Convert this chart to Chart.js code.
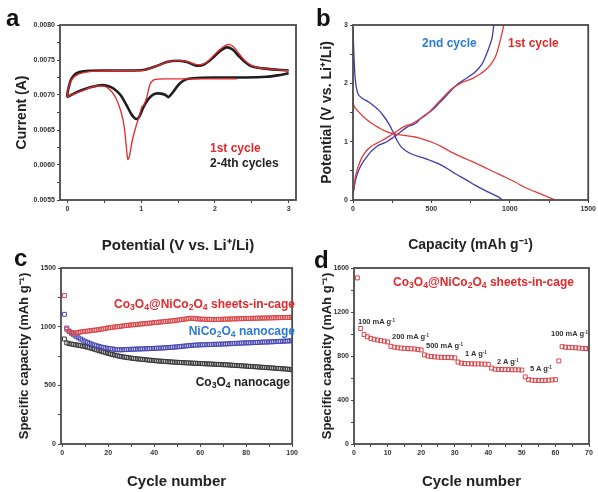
<!DOCTYPE html>
<html>
<head>
<meta charset="utf-8">
<script src="https://cdn.jsdelivr.net/npm/chart.js@4.4.0/dist/chart.umd.min.js"></script>
<style>
body { margin: 0; background: #fff; width: 598px; height: 492px; position: relative; overflow: hidden; font-family: Arial, "Liberation Sans", sans-serif; }
canvas { position: absolute; }
.lbl { position: absolute; font-weight: bold; white-space: nowrap; line-height: 1; }
.lbl sub { font-size: 0.72em; vertical-align: -0.22em; line-height: 0; }
.lbl sup { font-size: 0.6em; vertical-align: 0.45em; line-height: 0; }
.tag { position: absolute; font-size: 24px; font-weight: bold; line-height: 1; color: #111; }
.small { font-size: 7.5px; color: #333; }
.mid { font-size: 12px; }
</style>
</head>
<body>
<canvas id="chartA" width="300" height="255" style="left:0;top:0"></canvas>
<canvas id="chartB" width="298" height="255" style="left:300px;top:0"></canvas>
<canvas id="chartC" width="300" height="242" style="left:0;top:250px"></canvas>
<canvas id="chartD" width="298" height="242" style="left:300px;top:250px"></canvas>

<div class="tag" style="left:6px;top:6px">a</div>
<div class="tag" style="left:316px;top:6px">b</div>
<div class="tag" style="left:14px;top:246px">c</div>
<div class="tag" style="left:314px;top:248px">d</div>

<div class="lbl mid" style="left:210px;top:142px;color:#e4282c">1st cycle</div>
<div class="lbl mid" style="left:210px;top:157px;color:#222">2-4th cycles</div>

<div class="lbl mid" style="left:422px;top:37px;color:#2b7bd0">2nd cycle</div>
<div class="lbl mid" style="left:508px;top:37px;color:#e4282c">1st cycle</div>

<div class="lbl mid" style="right:303px;top:298px;color:#e4282c">Co<sub>3</sub>O<sub>4</sub>@NiCo<sub>2</sub>O<sub>4</sub> sheets-in-cage</div>
<div class="lbl mid" style="right:303px;top:325px;color:#2b7bd0">NiCo<sub>2</sub>O<sub>4</sub> nanocage</div>
<div class="lbl mid" style="right:308px;top:376px;color:#222">Co<sub>3</sub>O<sub>4</sub> nanocage</div>

<div class="lbl mid" style="left:393px;top:276px;color:#e4282c">Co<sub>3</sub>O<sub>4</sub>@NiCo<sub>2</sub>O<sub>4</sub> sheets-in-cage</div>
<div class="lbl small" style="left:358px;top:318px">100 mA g<sup>-1</sup></div>
<div class="lbl small" style="left:392px;top:333px">200 mA g<sup>-1</sup></div>
<div class="lbl small" style="left:426px;top:342px">500 mA g<sup>-1</sup></div>
<div class="lbl small" style="left:465px;top:350px">1 A g<sup>-1</sup></div>
<div class="lbl small" style="left:497px;top:358px">2 A g<sup>-1</sup></div>
<div class="lbl small" style="left:530px;top:365px">5 A g<sup>-1</sup></div>
<div class="lbl small" style="left:551px;top:330px">100 mA g<sup>-1</sup></div>

<script>
// ---- panel a: CV curves ----
const cv1Potential = [2.30, 1.80, 1.40, 1.18, 1.12, 1.08, 1.04, 1.01, 0.98, 0.93, 0.88, 0.84, 0.82, 0.80, 0.77, 0.73, 0.67, 0.60, 0.52, 0.45, 0.35, 0.25, 0.15, 0.05, 0.00,
  0.02, 0.06, 0.12, 0.22, 0.40, 0.70, 1.00, 1.10, 1.25, 1.40, 1.55, 1.65, 1.78, 1.88, 1.98, 2.08, 2.17, 2.24, 2.32, 2.40, 2.50, 2.65, 2.85, 3.00];
const cv1Current = [0.00723, 0.00723, 0.00723, 0.00722, 0.00715, 0.00698, 0.00686, 0.00683, 0.00672, 0.00655, 0.00635, 0.00612, 0.00608, 0.00625, 0.00655, 0.00675, 0.00693, 0.00705, 0.00712, 0.00713, 0.00712, 0.00708, 0.00704, 0.00700, 0.00698,
  0.00712, 0.00722, 0.00728, 0.00732, 0.00734, 0.00735, 0.00735, 0.00737, 0.00743, 0.00748, 0.00749, 0.00747, 0.00743, 0.00746, 0.00756, 0.00766, 0.00772, 0.00770, 0.00760, 0.00750, 0.00742, 0.00738, 0.00736, 0.00735];
const cv2Potential = [3.00, 2.85, 2.70, 2.40, 2.00, 1.70, 1.60, 1.52, 1.46, 1.40, 1.37, 1.33, 1.27, 1.20, 1.13, 1.07, 1.02, 0.98, 0.95, 0.91, 0.86, 0.80, 0.72, 0.63, 0.55, 0.45, 0.35, 0.25, 0.15, 0.05, 0.00,
  0.02, 0.06, 0.12, 0.22, 0.50, 0.90, 1.05, 1.20, 1.35, 1.50, 1.62, 1.75, 1.86, 1.96, 2.06, 2.16, 2.24, 2.32, 2.40, 2.50, 2.65, 2.85, 3.00];
const cv2Current = [0.00731, 0.00728, 0.00726, 0.00725, 0.00725, 0.00724, 0.00722, 0.00716, 0.00708, 0.00700, 0.00697, 0.00700, 0.00702, 0.00702, 0.00698, 0.00690, 0.00680, 0.00670, 0.00666, 0.00667, 0.00674, 0.00686, 0.00700, 0.00709, 0.00713, 0.00714, 0.00712, 0.00709, 0.00705, 0.00700, 0.00698,
  0.00712, 0.00724, 0.00731, 0.00734, 0.00735, 0.00735, 0.00736, 0.00741, 0.00747, 0.00749, 0.00747, 0.00742, 0.00744, 0.00752, 0.00762, 0.00768, 0.00765, 0.00756, 0.00748, 0.00741, 0.00738, 0.00736, 0.00735];
const ticksAx = [0, 0.5, 1, 1.5, 2, 2.5, 3];
const labelsAx = ['0', '', '1', '', '2', '', '3'];
const ticksAy = [0.0055, 0.00575, 0.006, 0.00625, 0.0065, 0.00675, 0.007, 0.00725, 0.0075, 0.00775, 0.008];
const labelsAy = ['0.0055', '', '0.0060', '', '0.0065', '', '0.0070', '', '0.0075', '', '0.0080'];

// ---- panel b: charge/discharge profiles ----
const dis1Cap = [0, 5, 26, 70, 121, 170, 206, 250, 291, 350, 398, 450, 504, 568, 620, 674, 750, 823, 900, 972, 1040, 1100, 1200, 1291];
const dis1Volt = [1.75, 1.62, 1.54, 1.42, 1.31, 1.23, 1.18, 1.14, 1.12, 1.10, 1.08, 1.04, 0.99, 0.91, 0.83, 0.76, 0.67, 0.58, 0.48, 0.39, 0.30, 0.21, 0.10, 0.0];
const chg1Cap = [0, 8, 15, 30, 57, 85, 111, 150, 185, 230, 270, 320, 377, 420, 462, 505, 547, 590, 632, 700, 760, 810, 845, 880, 909, 928, 945, 962];
const chg1Volt = [0.10, 0.25, 0.39, 0.55, 0.73, 0.84, 0.91, 0.97, 1.02, 1.09, 1.16, 1.25, 1.31, 1.38, 1.45, 1.56, 1.68, 1.80, 1.91, 2.02, 2.08, 2.16, 2.23, 2.33, 2.46, 2.62, 2.80, 3.0];
const dis2Cap = [0, 5, 10, 15, 25, 36, 60, 100, 130, 164, 195, 228, 255, 281, 305, 334, 380, 440, 500, 547, 600, 653, 720, 781, 860, 930, 951];
const dis2Volt = [2.95, 2.55, 2.25, 2.05, 1.88, 1.80, 1.74, 1.68, 1.62, 1.54, 1.44, 1.31, 1.17, 1.02, 0.92, 0.85, 0.78, 0.73, 0.67, 0.62, 0.54, 0.45, 0.35, 0.25, 0.14, 0.05, 0.0];
const chg2Cap = [0, 8, 15, 35, 57, 85, 111, 140, 164, 200, 228, 260, 291, 345, 398, 440, 504, 550, 589, 630, 674, 730, 781, 820, 845, 868, 887, 898];
const chg2Volt = [0.10, 0.22, 0.33, 0.50, 0.62, 0.73, 0.82, 0.89, 0.94, 0.98, 1.02, 1.08, 1.14, 1.25, 1.31, 1.42, 1.54, 1.66, 1.77, 1.89, 2.0, 2.1, 2.2, 2.32, 2.46, 2.62, 2.78, 3.0];
const ticksBx = [0, 250, 500, 750, 1000, 1250, 1500];
const labelsBx = ['0', '', '500', '', '1000', '', '1500'];
const ticksBy = [0, 0.5, 1, 1.5, 2, 2.5, 3];
const labelsBy = ['0', '', '1', '', '2', '', '3'];

// ---- panel c: cycling, 100 cycles ----
const capSheetsInCage = [1265, 978, 962, 950, 946, 948, 950, 955, 958, 960,
  962, 965, 968, 970, 972, 975, 978, 982, 985, 990,
  992, 995, 998, 1000, 1002, 1005, 1008, 1010, 1012, 1015,
  1016, 1018, 1020, 1022, 1024, 1026, 1028, 1030, 1032, 1035,
  1036, 1038, 1040, 1042, 1044, 1046, 1048, 1050, 1052, 1055,
  1058, 1060, 1063, 1066, 1070, 1072, 1070, 1068, 1066, 1065,
  1064, 1063, 1062, 1062, 1061, 1060, 1061, 1062, 1062, 1063,
  1064, 1064, 1065, 1066, 1066, 1067, 1068, 1068, 1069, 1070,
  1070, 1071, 1071, 1072, 1072, 1073, 1073, 1074, 1074, 1075,
  1075, 1076, 1076, 1077, 1077, 1078, 1078, 1079, 1079, 1080];
const capNiCo2O4 = [1105, 988, 960, 945, 930, 918, 905, 895, 885, 875,
  866, 858, 850, 843, 837, 832, 827, 822, 818, 815,
  812, 809, 806, 804, 803, 803, 804, 805, 806, 807,
  808, 809, 810, 810, 811, 812, 812, 813, 814, 815,
  816, 817, 818, 819, 820, 822, 823, 825, 826, 828,
  830, 832, 834, 836, 838, 840, 842, 843, 844, 845,
  846, 846, 847, 848, 848, 849, 850, 850, 851, 852,
  853, 854, 855, 856, 857, 858, 859, 860, 861, 862,
  862, 863, 864, 865, 866, 867, 868, 869, 869, 870,
  871, 872, 873, 874, 875, 876, 877, 878, 879, 880];
const capCo3O4 = [895, 862, 856, 852, 848, 845, 842, 838, 834, 830,
  825, 820, 814, 808, 802, 796, 790, 784, 778, 772,
  767, 762, 757, 752, 748, 744, 741, 738, 735, 732,
  729, 727, 725, 723, 721, 719, 717, 715, 713, 711,
  709, 707, 706, 704, 703, 701, 700, 699, 697, 696,
  695, 694, 693, 692, 691, 690, 689, 688, 687, 686,
  685, 684, 683, 682, 681, 680, 679, 678, 677, 676,
  675, 674, 673, 671, 670, 669, 668, 666, 665, 664,
  662, 661, 660, 658, 657, 655, 654, 652, 651, 650,
  648, 647, 645, 644, 642, 641, 640, 638, 636, 632];
const ticksCx = [0, 10, 20, 30, 40, 50, 60, 70, 80, 90, 100];
const labelsCx = ['0', '', '20', '', '40', '', '60', '', '80', '', '100'];
const ticksCy = [0, 250, 500, 750, 1000, 1250, 1500];
const labelsCy = ['0', '', '500', '', '1000', '', '1500'];

// ---- panel d: rate capability, 70 cycles ----
const capRate = [1510, 1050, 995, 975, 960, 952, 945, 940, 935, 928,
  888, 880, 875, 872, 870, 868, 866, 864, 860, 855,
  810, 800, 795, 792, 790, 788, 787, 786, 785, 783,
  745, 735, 732, 730, 729, 728, 728, 727, 726, 724,
  690, 680, 678, 677, 676, 676, 675, 675, 674, 672,
  610, 585, 580, 578, 578, 577, 578, 580, 582, 585,
  755, 885, 880, 878, 876, 875, 872, 870, 868, 865];
const ticksDx = [0, 5, 10, 15, 20, 25, 30, 35, 40, 45, 50, 55, 60, 65, 70];
const labelsDx = ['0', '', '10', '', '20', '', '30', '', '40', '', '50', '', '60', '', '70'];
const ticksDy = [0, 200, 400, 600, 800, 1000, 1200, 1400, 1600];
const labelsDy = ['0', '', '400', '', '800', '', '1200', '', '1600'];

const pairs = (xs, ys) => xs.map((x, i) => ({ x: x, y: ys[i] }));
const byCycle = ys => ys.map((y, i) => ({ x: i + 1, y: y }));

// box frame around the plot area
const framePlugin = {
  id: 'frame',
  afterDraw(chart) {
    const { ctx, chartArea: a } = chart;
    ctx.save();
    ctx.strokeStyle = '#4a4a4a';
    ctx.lineWidth = 1.8;
    ctx.strokeRect(a.left, a.top, a.right - a.left, a.bottom - a.top);
    ctx.restore();
  }
};

function scale(o) {
  return {
    type: 'linear',
    min: o.min,
    max: o.max,
    afterBuildTicks: s => { s.ticks = o.ticks.map(v => ({ value: v })); },
    afterFit: s => { if (o.width) s.width = o.width; if (o.height) s.height = o.height; },
    ticks: {
      autoSkip: false,
      maxRotation: 0,
      padding: 2,
      color: '#333',
      font: { size: 7, weight: 'bold', family: 'Arial' },
      callback: (v, i) => o.labels[i]
    },
    grid: { drawOnChartArea: false, tickLength: 3, color: '#444' },
    border: { display: false },
    title: {
      display: true,
      text: o.title,
      color: '#222',
      font: { size: o.titleSize || 14, weight: 'bold', family: 'Arial' },
      padding: o.titlePad
    }
  };
}

function baseOptions(pad, x, y) {
  return {
    responsive: false,
    animation: false,
    layout: { padding: pad },
    plugins: { legend: { display: false }, tooltip: { enabled: false } },
    scales: { x: x, y: y }
  };
}

// panel a
new Chart(document.getElementById('chartA'), {
  type: 'scatter',
  data: {
    datasets: [
      { data: pairs(cv1Potential, cv1Current), showLine: true, borderColor: '#e4282c', borderWidth: 1.3, pointRadius: 0, tension: 0.3 },
      { data: pairs(cv2Potential, cv2Current), showLine: true, borderColor: '#1e1e1e', borderWidth: 2.6, pointRadius: 0, tension: 0.3 }
    ]
  },
  options: baseOptions({ top: 25, right: 4, left: 0, bottom: 0 },
    scale({ min: -0.1, max: 3.1, ticks: ticksAx, labels: labelsAx, height: 55, title: 'Potential (V vs. Li\u207A/Li)', titleSize: 15, titlePad: { top: 0, bottom: 0 } }),
    scale({ min: 0.0055, max: 0.008, ticks: ticksAy, labels: labelsAy, width: 60, title: 'Current (A)', titlePad: { top: 14, bottom: 0 } })),
  plugins: [framePlugin]
});

// panel b
new Chart(document.getElementById('chartB'), {
  type: 'scatter',
  data: {
    datasets: [
      { data: pairs(dis1Cap, dis1Volt), showLine: true, borderColor: '#e23a3a', borderWidth: 1.3, pointRadius: 0, tension: 0.3 },
      { data: pairs(chg1Cap, chg1Volt), showLine: true, borderColor: '#e23a3a', borderWidth: 1.3, pointRadius: 0, tension: 0.3 },
      { data: pairs(dis2Cap, dis2Volt), showLine: true, borderColor: '#3c3cae', borderWidth: 1.3, pointRadius: 0, tension: 0.3 },
      { data: pairs(chg2Cap, chg2Volt), showLine: true, borderColor: '#3c3cae', borderWidth: 1.3, pointRadius: 0, tension: 0.3 }
    ]
  },
  options: baseOptions({ top: 25, right: 8, left: 0, bottom: 0 },
    scale({ min: 0, max: 1500, ticks: ticksBx, labels: labelsBx, height: 55, title: 'Capacity (mAh g\u207B\u00B9)', titlePad: { top: 0, bottom: 1 } }),
    scale({ min: 0, max: 3, ticks: ticksBy, labels: labelsBy, width: 53, title: 'Potential (V vs. Li\u207A/Li)', titlePad: { top: 19, bottom: 0 } })),
  plugins: [framePlugin]
});

const squares = (color) => ({ showLine: false, pointStyle: 'rect', pointRadius: 2.8, borderWidth: 1, borderColor: color, backgroundColor: 'rgba(255,255,255,0)' });

// panel c
new Chart(document.getElementById('chartC'), {
  type: 'scatter',
  data: {
    datasets: [
      Object.assign({ data: byCycle(capSheetsInCage) }, squares('#d9474a')),
      Object.assign({ data: byCycle(capNiCo2O4) }, squares('#4848b4')),
      Object.assign({ data: byCycle(capCo3O4) }, squares('#3a3a3a'))
    ]
  },
  options: baseOptions({ top: 18, right: 4, left: 0, bottom: 0 },
    scale({ min: -0.5, max: 100, ticks: ticksCx, labels: labelsCx, height: 48, title: 'Cycle number', titleSize: 15, titlePad: { top: 0, bottom: 1 } }),
    scale({ min: 0, max: 1500, ticks: ticksCy, labels: labelsCy, width: 61, title: 'Specific capacity (mAh g\u207B\u00B9)', titleSize: 13, titlePad: { top: 17, bottom: 0 } })),
  plugins: [framePlugin]
});

// panel d
new Chart(document.getElementById('chartD'), {
  type: 'scatter',
  data: {
    datasets: [
      Object.assign({ data: byCycle(capRate) }, squares('#d9474a'))
    ]
  },
  options: baseOptions({ top: 18, right: 9, left: 0, bottom: 0 },
    scale({ min: 0, max: 70, ticks: ticksDx, labels: labelsDx, height: 48, title: 'Cycle number', titleSize: 15, titlePad: { top: 0, bottom: 1 } }),
    scale({ min: 0, max: 1600, ticks: ticksDy, labels: labelsDy, width: 54, title: 'Specific capacity (mAh g\u207B\u00B9)', titleSize: 13, titlePad: { top: 20, bottom: 0 } })),
  plugins: [framePlugin]
});
</script>
</body>
</html>
